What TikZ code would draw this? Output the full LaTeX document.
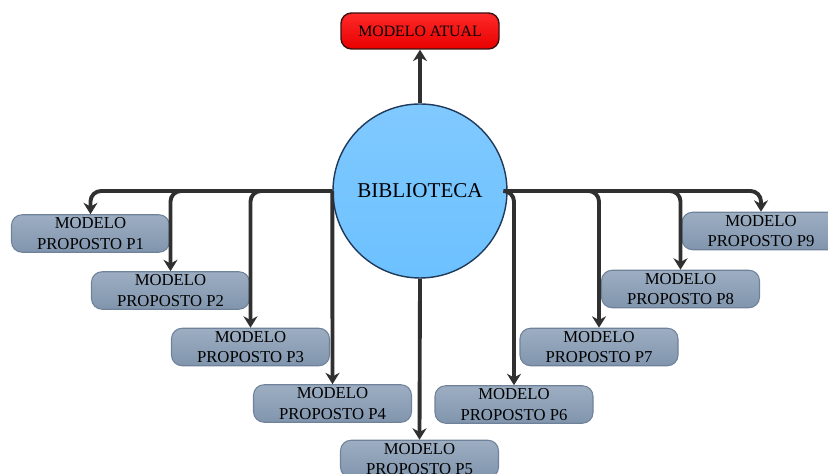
\documentclass[tikz,border=0pt]{standalone}
\usepackage{fontspec}
\setmainfont{Liberation Serif}
\usetikzlibrary{arrows.meta, positioning, shapes.geometric}
\definecolor{ModelRed}{HTML}{FF2A2A}
\definecolor{ModelRedDark}{HTML}{E80000}
\definecolor{ModelRedLine}{HTML}{3A1212}
\definecolor{LibBlue}{HTML}{6CC1FF}
\definecolor{LibBlueLight}{HTML}{80C9FF}
\definecolor{LibBlueLine}{HTML}{1F3A5A}
\definecolor{PropTop}{HTML}{9DAEC2}
\definecolor{PropBottom}{HTML}{8095AD}
\definecolor{PropLine}{HTML}{6F8299}
\definecolor{LinkGray}{HTML}{303030}
\tikzset{
    % Node styles
    currentbox/.style={
        rectangle,
        rounded corners=6pt,
        draw=ModelRedLine,
        top color=ModelRed,
        bottom color=ModelRedDark,
        line width=0.8pt,
        minimum width=3.16cm,
        minimum height=0.72cm,
        text centered,
        font=\fontsize{9}{11}\selectfont
    },
    librarynode/.style={
        circle,
        draw=LibBlueLine,
        top color=LibBlueLight,
        bottom color=LibBlue,
        line width=0.8pt,
        minimum size=3.48cm,
        inner sep=0pt,
        font=\fontsize{12}{14}\selectfont
    },
    proposedbox/.style={
        rectangle,
        rounded corners=6pt,
        draw=PropLine,
        top color=PropTop,
        bottom color=PropBottom,
        line width=0.6pt,
        minimum width=3.16cm,
        minimum height=0.75cm,
        inner sep=1pt,
        align=center,
        font=\fontsize{9.5}{11.5}\selectfont
    },
    % Arrow styles
    linkarrow/.style={
        -{Stealth[length=6.5pt,width=8pt]},
        line width=2.2pt,
        rounded corners=6pt,
        LinkGray
    }
}
\begin{document}
\begin{tikzpicture}
    \useasboundingbox (0,0) rectangle (16.56,9.48);

    % Current model and library
    \node[currentbox] (atual) at (8.4,8.86) {MODELO ATUAL};
    \node[librarynode] (bib) at (8.4,5.66) {BIBLIOTECA};

    % Proposed models
    \node[proposedbox] (p1) at (1.81,4.81) {MODELO\\PROPOSTO P1};
    \node[proposedbox] (p2) at (3.41,3.67) {MODELO\\PROPOSTO P2};
    \node[proposedbox] (p3) at (5.01,2.54) {MODELO\\PROPOSTO P3};
    \node[proposedbox] (p4) at (6.65,1.41) {MODELO\\PROPOSTO P4};
    \node[proposedbox] (p5) at (8.39,0.30) {MODELO\\PROPOSTO P5};
    \node[proposedbox] (p6) at (10.28,1.39) {MODELO\\PROPOSTO P6};
    \node[proposedbox] (p7) at (11.98,2.54) {MODELO\\PROPOSTO P7};
    \node[proposedbox] (p8) at (13.61,3.70) {MODELO\\PROPOSTO P8};
    \node[proposedbox] (p9) at (15.22,4.86) {MODELO\\PROPOSTO P9};

    % Connections
    \draw[linkarrow] (bib.north) -- (atual.south);
    \draw[linkarrow] (bib.west) -| (p1.north);
    \draw[linkarrow] (bib.west) -| (p2.north);
    \draw[linkarrow] (bib.west) -| (p3.north);
    \draw[linkarrow] (bib.west) -- (p4.north);
    \draw[linkarrow] (bib.south) -- (p5.north);
    \draw[linkarrow] (bib.east) -| (p6.north);
    \draw[linkarrow] (bib.east) -| (p7.north);
    \draw[linkarrow] (bib.east) -| (p8.north);
    \draw[linkarrow] (bib.east) -| (p9.north);
\end{tikzpicture}
\end{document}
